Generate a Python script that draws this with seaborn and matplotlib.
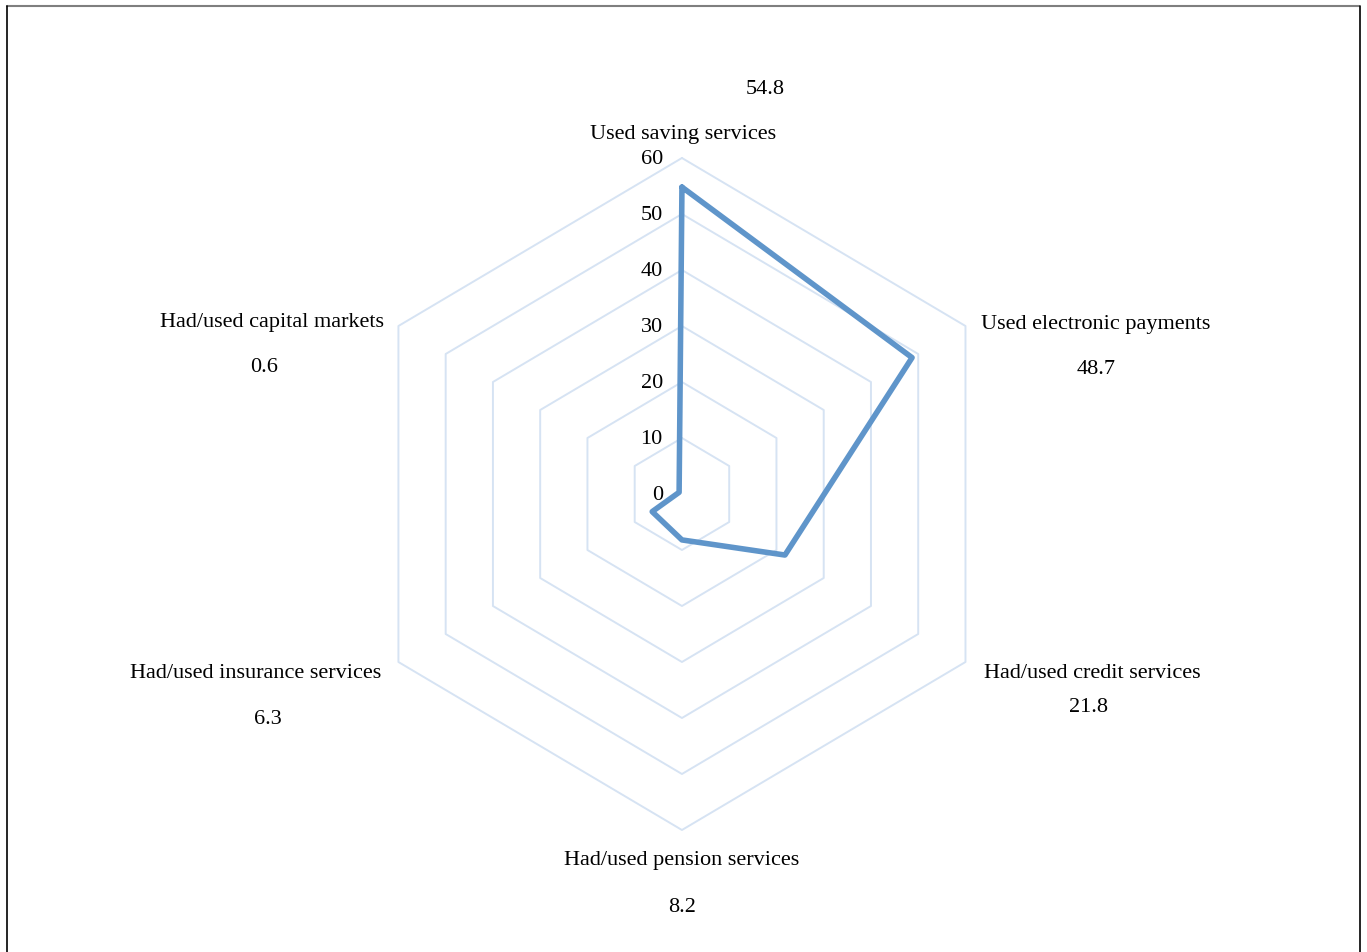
import numpy as np
import pandas as pd
import matplotlib
matplotlib.use("Agg")
import matplotlib.pyplot as plt
from matplotlib.lines import Line2D
import seaborn as sns

categories = ["Used saving services", "Used electronic payments", "Had/used credit services",
              "Had/used pension services", "Had/used insurance services", "Had/used capital markets"]
values = [54.8, 48.7, 21.8, 8.2, 6.3, 0.6]
value_labels = ["54.8", "48.7", "21.8", "8.2", "6.3", "0.6"]
ring_levels = [0, 10, 20, 30, 40, 50, 60]
ring_labels = ["0", "10", "20", "30", "40", "50", "60"]

sns.set_theme(style="white")
plt.rcParams['font.family'] = ['Liberation Serif', 'DejaVu Serif']

W, H = 1367, 952
FS = 16
fig = plt.figure(figsize=(W / 100, H / 100), dpi=100)
ax = fig.add_axes([300 / W, 66 / H, 763.9 / W, 784 / H])

n = len(categories)
angles = np.arange(n) * 2 * np.pi / n  # clockwise from top

# hexagonal grid rings
for lvl in ring_levels[1:]:
    a = np.append(angles, angles[0])
    ax.plot(lvl * np.sin(a), lvl * np.cos(a), color="#D6E3F3", lw=1.4, zorder=1)

# data polygon
vals = np.array(values + values[:1])
a = np.append(angles, angles[0])
df = pd.DataFrame({"x": vals * np.sin(a), "y": vals * np.cos(a)})
sns.lineplot(data=df, x="x", y="y", sort=False, ax=ax, color="#5F95CA", lw=4.0,
             estimator=None, zorder=3)
ax.set_xlabel("")
ax.set_ylabel("")
ax.set_xlim(-70, 70)
ax.set_ylim(-70, 70)
ax.axis("off")

# radial tick labels
for lvl, lab in zip(ring_levels, ring_labels):
    ax.text(-3.5, lvl - 0.3, lab, ha="right", va="center", fontsize=FS, color="#000000")

# category labels & value labels (pixel centres)
cat_pos = [(683, 134), (1096, 324), (1092, 674), (682, 861), (256, 674), (272, 323)]
val_pos = [(765, 90), (1096, 370), (1088, 707), (682, 907), (268, 719), (264, 367)]
for lab, (px, py) in zip(categories, cat_pos):
    fig.text(px / W, 1 - py / H, lab, ha="center", va="center", fontsize=FS, color="#000000")
for lab, (px, py) in zip(value_labels, val_pos):
    fig.text(px / W, 1 - py / H, lab, ha="center", va="center", fontsize=FS, color="#000000")

# outer frame (top, left, right)
fig.add_artist(Line2D([7 / W, 1359 / W], [1 - 5.5 / H, 1 - 5.5 / H], transform=fig.transFigure, color="#7F7F7F", lw=1.5))
fig.add_artist(Line2D([7 / W, 7 / W], [0, 1 - 5.5 / H], transform=fig.transFigure, color="#000000", lw=1.2))
fig.add_artist(Line2D([1359.5 / W, 1359.5 / W], [0, 1 - 5.5 / H], transform=fig.transFigure, color="#000000", lw=1.2))

fig.savefig("out.png", dpi=100, facecolor="white")
